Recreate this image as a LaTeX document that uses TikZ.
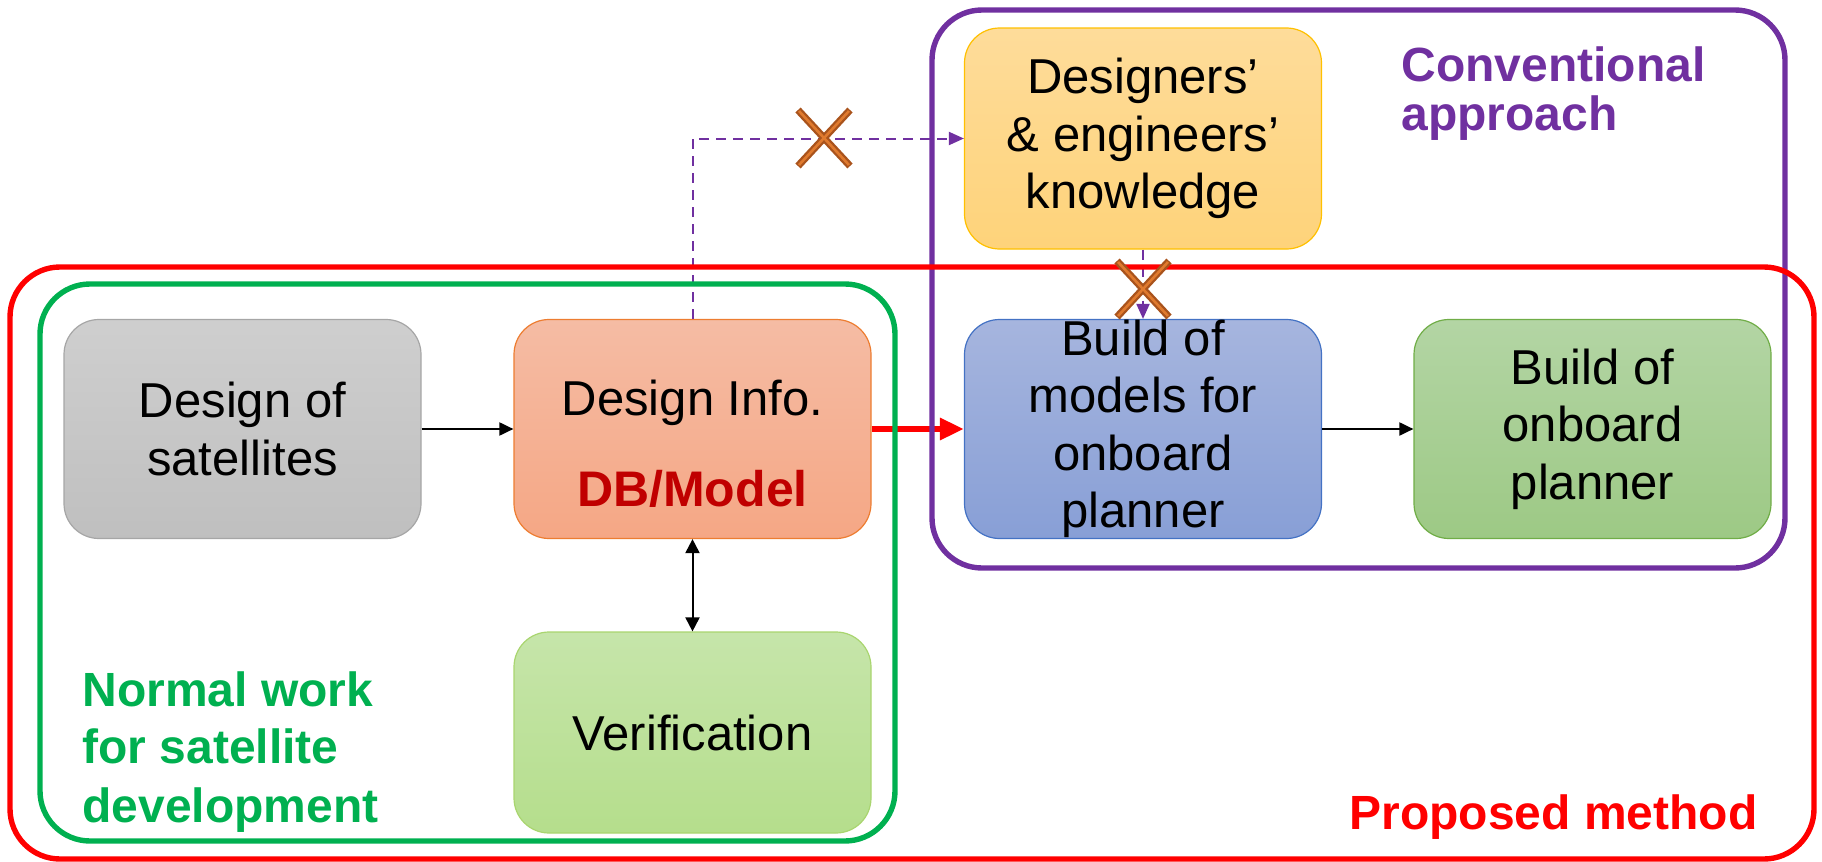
\documentclass[tikz,border=0pt]{standalone}
\usepackage{fontspec}
\setmainfont{Liberation Sans}
\usetikzlibrary{arrows.meta}

\definecolor{frameRed}{HTML}{FF0000}
\definecolor{frameGreen}{HTML}{00B050}
\definecolor{framePurple}{HTML}{7030A0}
\definecolor{dbRed}{HTML}{C00000}
\definecolor{xBrown}{HTML}{A9531C}
\definecolor{xOrange}{HTML}{E07A2E}

\newcommand\bxfont{\fontsize{24.5pt}{28.75pt}\selectfont}
\newcommand\lblfont{\fontsize{24pt}{24.5pt}\selectfont\bfseries}

\begin{document}
\begin{tikzpicture}[x=0.5pt,y=-0.5pt,
  frame/.style={draw, line width=2.7pt, rounded corners=25pt, inner sep=0pt},
  box/.style={rounded corners=17.5pt, line width=0.6pt, minimum width=178.5pt,
    minimum height=109.5pt, inner sep=0pt, align=center, font=\bxfont},
  txt/.style={inner sep=0pt, font=\bxfont},
  lbl/.style={inner sep=0pt, anchor=base west, font=\lblfont},
  blk/.style={line width=1pt, -{Triangle[length=7pt,width=6.5pt]}},
  blk2/.style={line width=1pt, {Triangle[length=7pt,width=7pt]}-{Triangle[length=7pt,width=7pt]}},
  redarrow/.style={draw=frameRed, line width=3pt, -{Triangle[length=12pt,width=10.5pt]}},
  pdash/.style={draw=framePurple, line width=1pt, dash pattern=on 5pt off 3.5pt,
    -{Triangle[length=7.5pt,width=6.5pt]}},
  xout/.style={draw=xBrown, line width=3.6pt},
  xin/.style={draw=xOrange, line width=1.3pt}]

\useasboundingbox (0,0) rectangle (1822,862);

% process boxes
\node[box, draw=black!35, top color=black!19, bottom color=black!25] (sat) at (242.5,429) {Design of\\satellites};
\node[box, draw={rgb,255:red,237;green,125;blue,49}, top color={rgb,255:red,245;green,188;blue,164},
  bottom color={rgb,255:red,245;green,167;blue,133}] (info) at (692.5,429) {};
\node[txt, anchor=base] (infotop) at (692.5,415) {Design Info.};
\node[txt, anchor=base, font=\fontsize{25pt}{28pt}\selectfont\bfseries, text=dbRed] (infodb) at (692.5,506) {DB/Model};
\node[box, minimum height=100.5pt, draw={rgb,255:red,169;green,213;blue,111},
  top color={rgb,255:red,198;green,229;blue,170}, bottom color={rgb,255:red,181;green,222;blue,140}] (verif) at (692.5,732.5) {Verification};
\node[box, draw={rgb,255:red,68;green,114;blue,196}, top color={rgb,255:red,166;green,181;blue,222},
  bottom color={rgb,255:red,136;green,159;blue,214}] (models) at (1143,429) {Build of\\models for\\onboard\\planner};
\node[box, draw={rgb,255:red,112;green,173;blue,71}, top color={rgb,255:red,179;green,213;blue,164},
  bottom color={rgb,255:red,157;green,201;blue,133}] (planner) at (1592.5,429) {Build of\\onboard\\planner};
\node[box, minimum height=110.5pt, draw={rgb,255:red,255;green,192;blue,0}, top color={rgb,255:red,254;green,220;blue,154},
  bottom color={rgb,255:red,254;green,211;blue,122}] (know) at (1143,138.5) {Designers’\\\& engineers’\\knowledge};

% connectors
\draw[blk] (sat) -- (info);
\draw[blk] (models) -- (planner);
\draw[blk2] (info) -- (verif);
\draw[redarrow] (info) -- (models);
\draw[pdash] (info.north) |- (know.west);
\draw[pdash] (know.south) -- (models.north);

% grouping frames
\node[frame, draw=frameGreen, minimum width=427.5pt, minimum height=278.5pt] (normal) at (467.5,562.5) {};
\node[frame, draw=framePurple, minimum width=426.5pt, minimum height=279pt] (conventional) at (1358.5,289) {};
\node[frame, draw=frameRed, minimum width=902pt, minimum height=296pt] (proposed) at (912,563) {};

% cut marks on the blocked knowledge flow
\foreach \cx/\cy in {824/138, 1143/289} {
  \draw[xout] (\cx,\cy) ++(-26,-28) -- ++(52,56) (\cx,\cy) ++(-26,28) -- ++(52,-56);
  \draw[xin] (\cx,\cy) ++(-25,-27) -- ++(50,54) (\cx,\cy) ++(-25,27) -- ++(50,-54);
}

% frame captions
\node[lbl, text=framePurple] (conv1) at (1401,81) {Conventional};
\node[lbl, text=framePurple] (conv2) at (1401,130) {approach};
\node[lbl, text=frameGreen] (norm1) at (82,706) {Normal work};
\node[lbl, text=frameGreen] (norm2) at (82,763) {for satellite};
\node[lbl, text=frameGreen] (norm3) at (82,822) {development};
\node[lbl, anchor=base east, text=frameRed] (prop) at (1758,829) {Proposed method};
\end{tikzpicture}
\end{document}
